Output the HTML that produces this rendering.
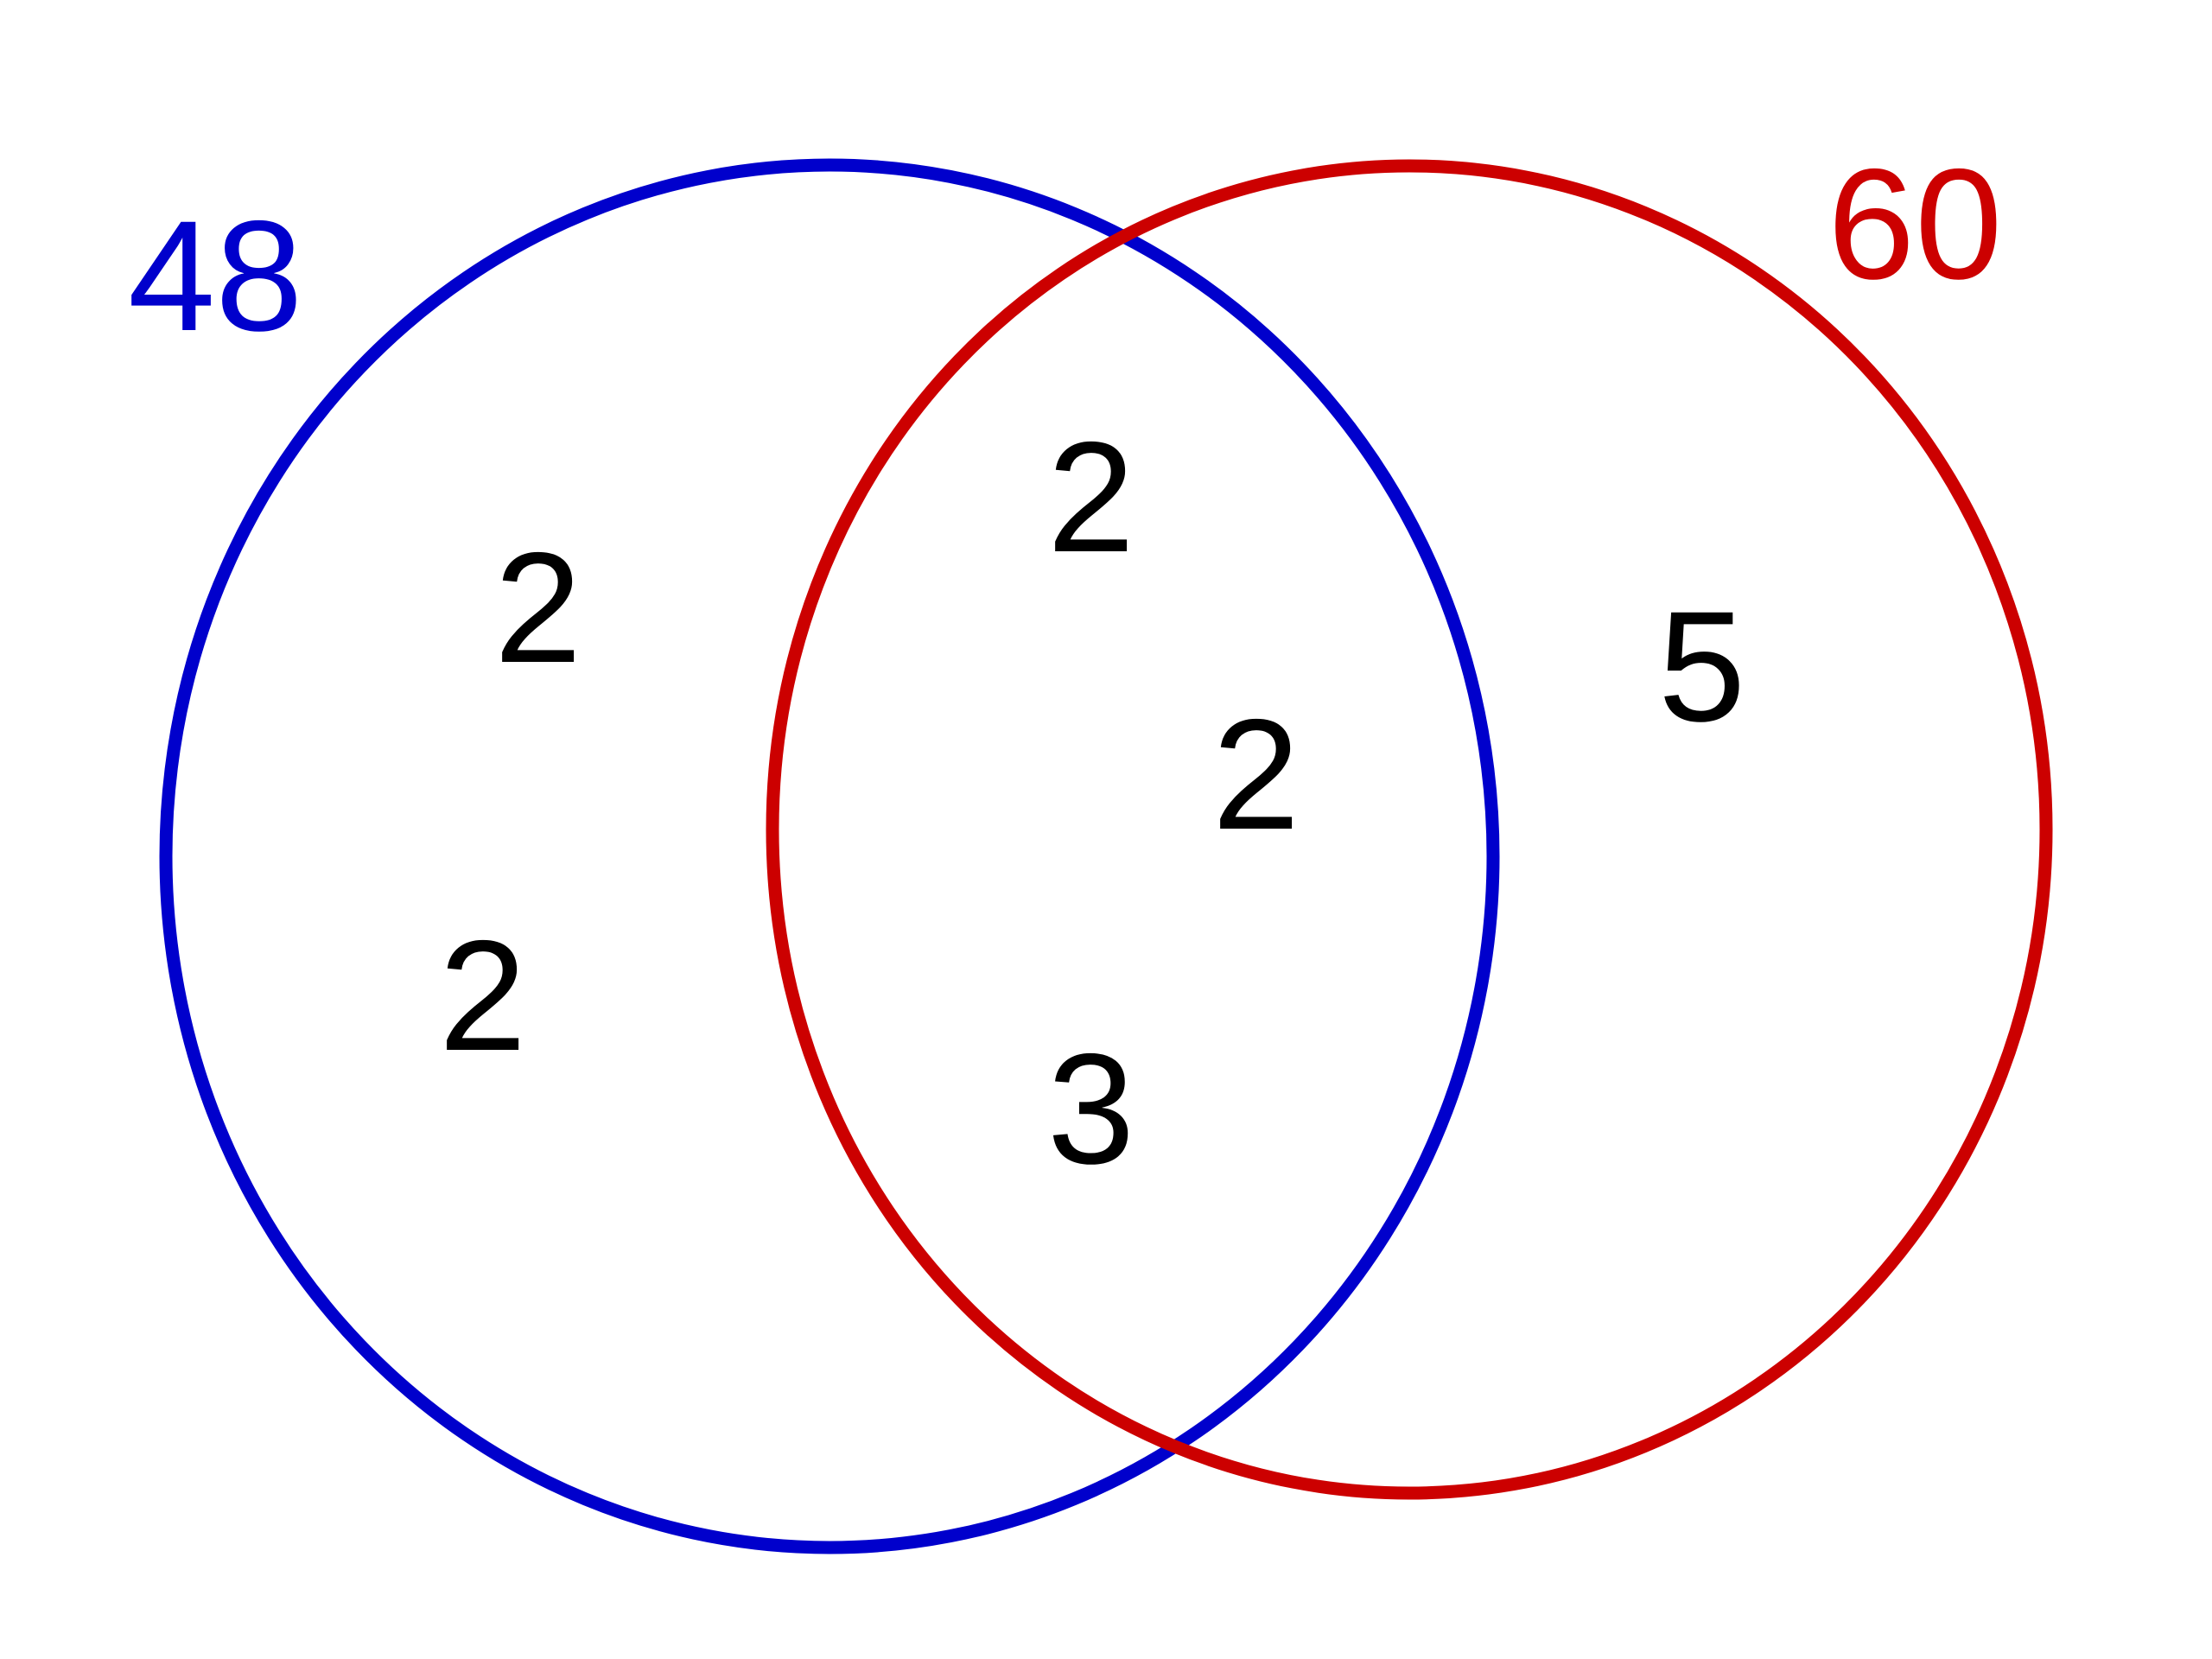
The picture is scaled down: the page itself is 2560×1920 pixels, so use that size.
<!DOCTYPE html>
<html><head><meta charset="utf-8"><style>
html,body{margin:0;padding:0;background:#fff;}
svg{display:block;}
text{font-family:"Liberation Sans",Arial,sans-serif;font-size:182px;}
</style></head><body>
<svg width="2560" height="1920" viewBox="0 0 2560 1920" xmlns="http://www.w3.org/2000/svg">
<rect width="2560" height="1920" fill="#fff"/>
<ellipse cx="960" cy="991" rx="768" ry="800" fill="none" stroke="#0000cc" stroke-width="15"/>
<ellipse cx="1631" cy="960" rx="737" ry="768" fill="none" stroke="#cc0000" stroke-width="15"/>
<text x="148" y="382" fill="#0000cc">48</text>
<text x="2115" y="322" fill="#cc0000">60</text>
<text x="572" y="766" fill="#000">2</text>
<text x="1212" y="638" fill="#000">2</text>
<text x="1403" y="959" fill="#000">2</text>
<text x="508" y="1215" fill="#000">2</text>
<text x="1212" y="1346" fill="#000">3</text>
<text x="1919" y="834" fill="#000">5</text>
</svg>
</body></html>
